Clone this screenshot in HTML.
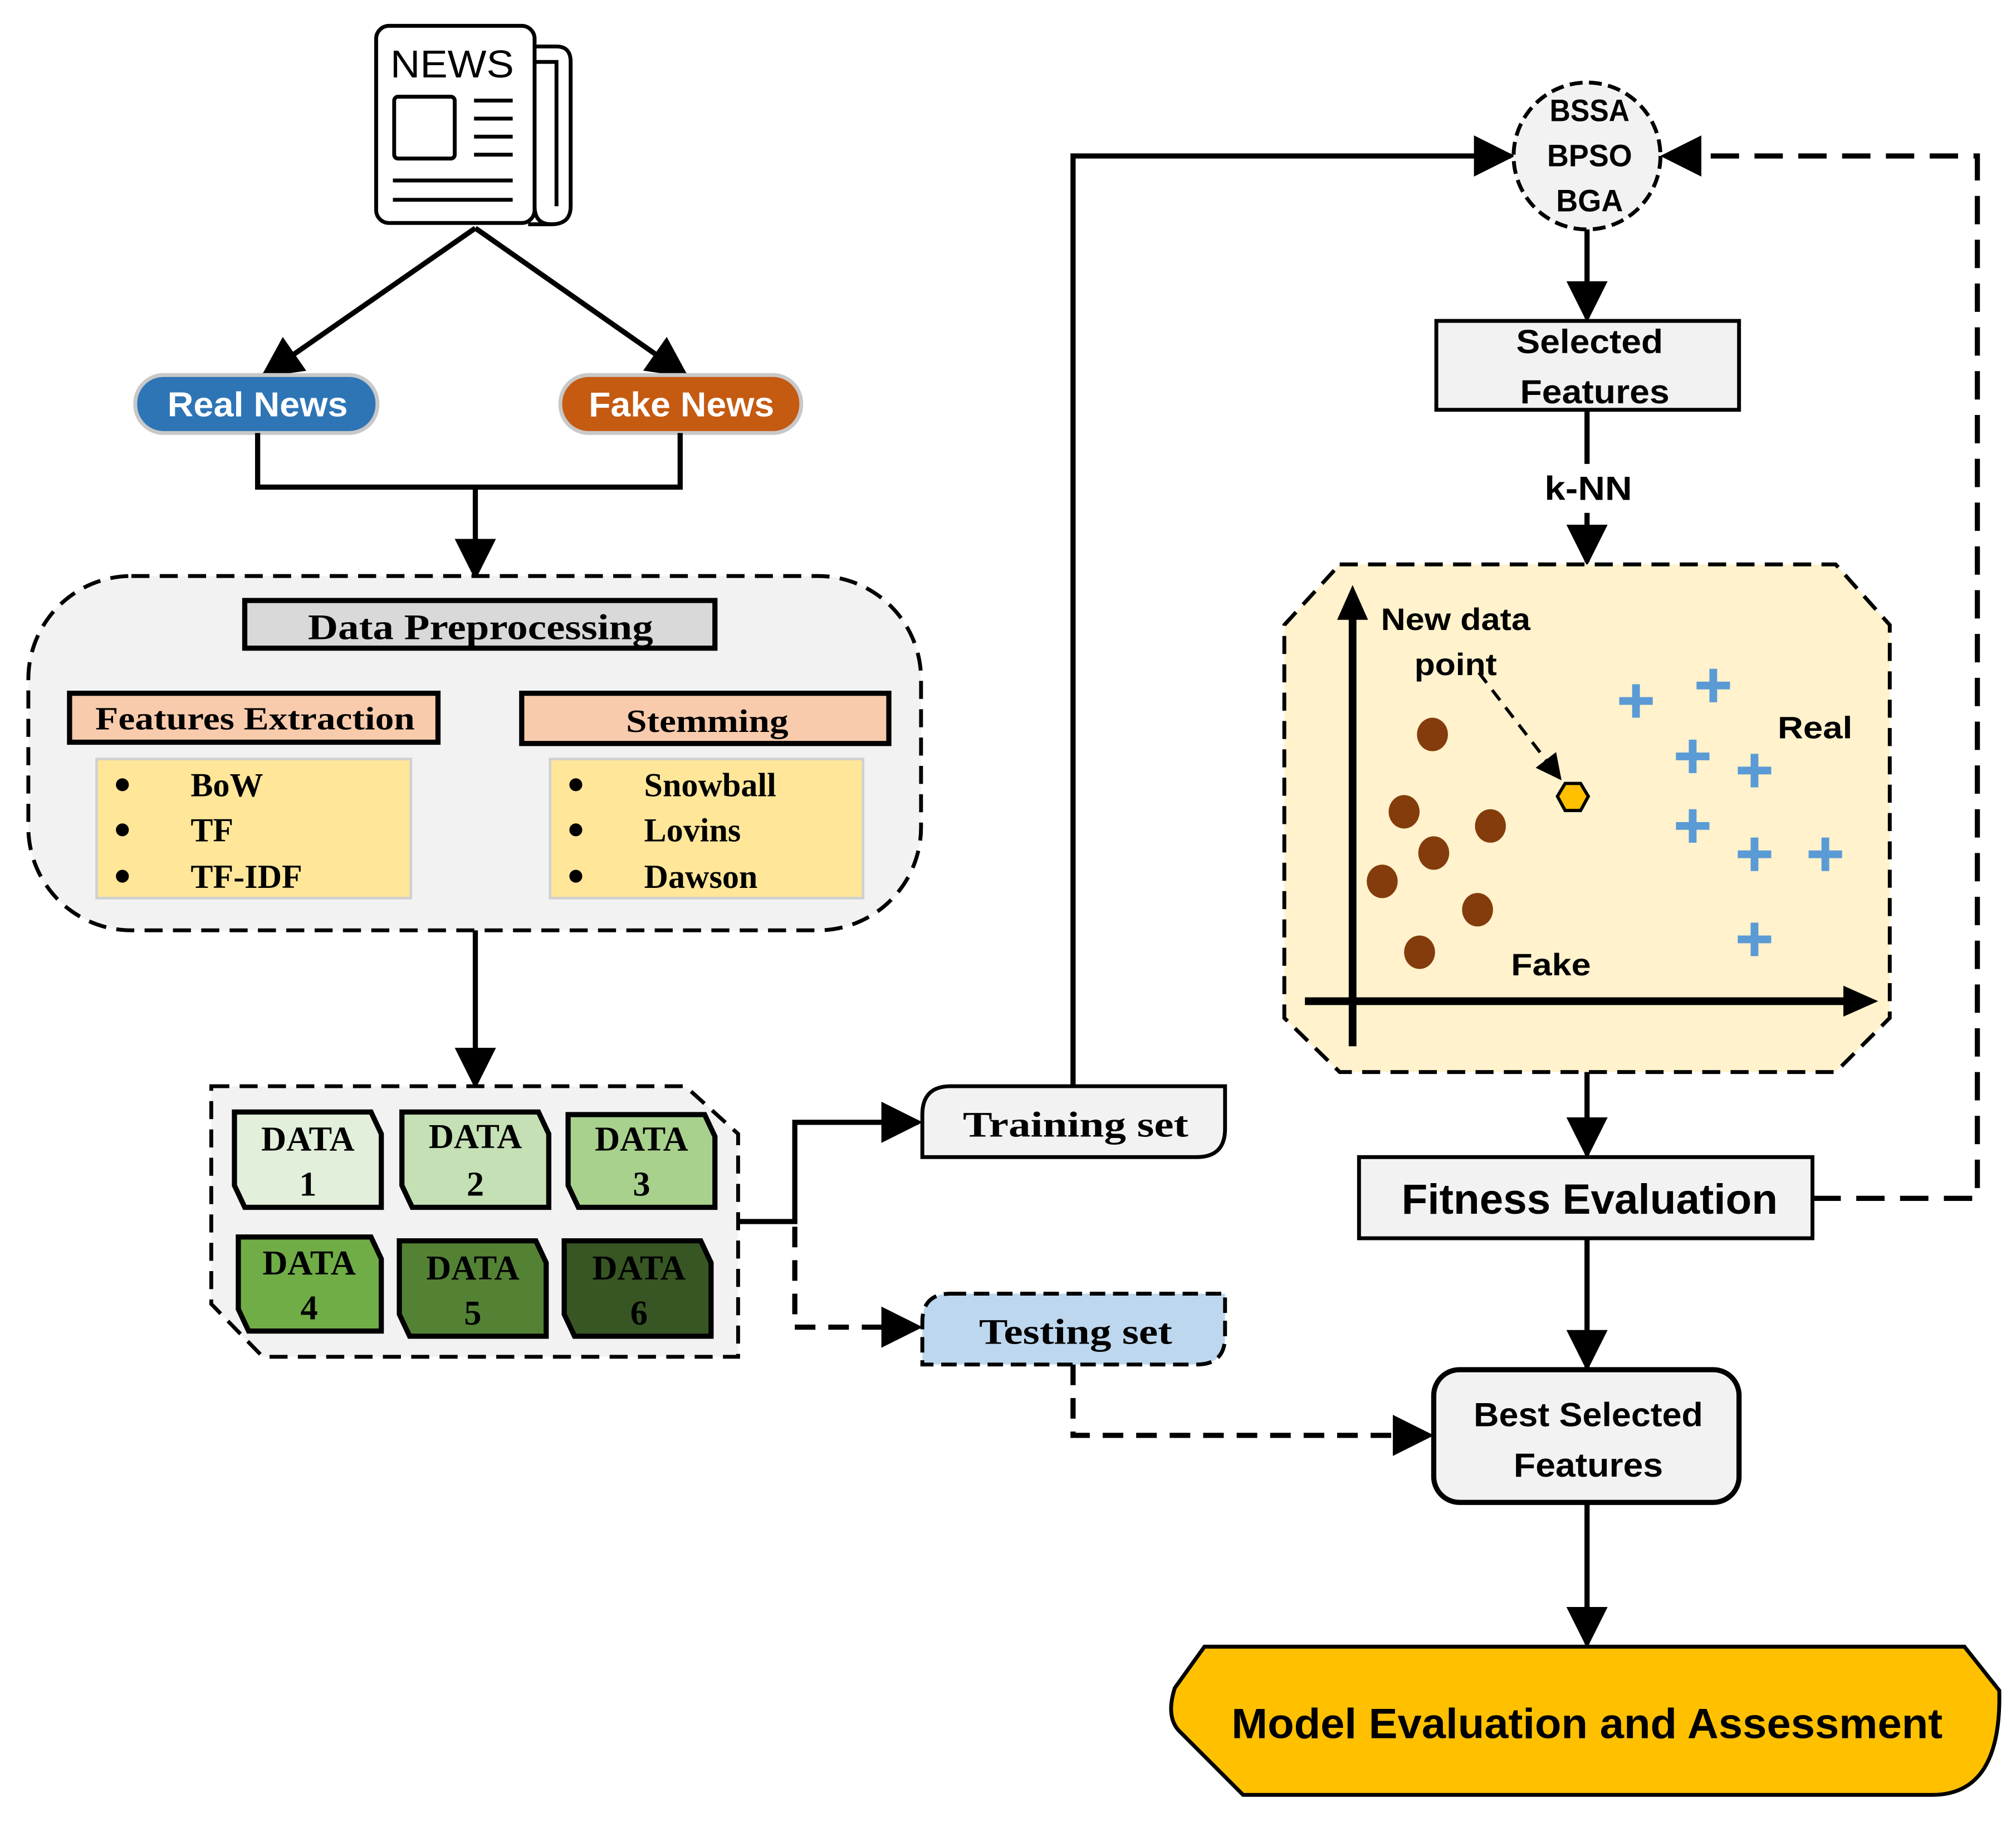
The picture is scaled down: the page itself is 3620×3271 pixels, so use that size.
<!DOCTYPE html>
<html><head><meta charset="utf-8"><style>html,body{margin:0;padding:0;background:#fff}svg{display:block}</style></head>
<body>
<svg width="3620" height="3271" viewBox="0 0 1565 1414" xmlns="http://www.w3.org/2000/svg">
<defs>
<marker id="ab" viewBox="0 0 10 10" refX="9" refY="5" markerWidth="8" markerHeight="8" orient="auto"><path d="M0,0 L10,5 L0,10 z" fill="#000"/></marker>
</defs>
<g font-family="Liberation Sans, sans-serif" font-weight="bold">
<!-- Newspaper -->
<path d="M410,36 L432,36 Q443,36 443,48 L443,160 Q443,174 428,174 L410,174" fill="#fff" stroke="#000" stroke-width="3"/>
<path d="M415,48 L432,48 L432,160" fill="none" stroke="#000" stroke-width="3"/>
<rect x="292" y="20" width="123" height="153" rx="10" fill="#fff" stroke="#000" stroke-width="3"/>
<path d="M415,160 Q415,174 428,174" fill="none" stroke="#000" stroke-width="3"/>
<text x="351" y="60" font-size="30" font-weight="normal" text-anchor="middle" textLength="96" lengthAdjust="spacingAndGlyphs">NEWS</text>
<rect x="306" y="75" width="47" height="48" rx="3" fill="none" stroke="#000" stroke-width="3"/>
<g stroke="#000" stroke-width="3"><line x1="368" y1="78" x2="398" y2="78"/><line x1="368" y1="92" x2="398" y2="92"/><line x1="368" y1="106" x2="398" y2="106"/><line x1="368" y1="120" x2="398" y2="120"/><line x1="305" y1="140" x2="398" y2="140"/><line x1="305" y1="155" x2="398" y2="155"/></g>
<line x1="369" y1="177" x2="205" y2="291" stroke="#000" stroke-width="4" marker-end="url(#ab)"/>
<line x1="369" y1="177" x2="532" y2="291" stroke="#000" stroke-width="4" marker-end="url(#ab)"/>
<rect x="105" y="291" width="188" height="45" rx="22" fill="#2e75b6" stroke="#c8c8c8" stroke-width="3"/>
<text x="200" y="323" font-size="27" fill="#fff" text-anchor="middle" textLength="140" lengthAdjust="spacingAndGlyphs">Real News</text>
<rect x="435" y="291" width="187" height="45" rx="22" fill="#c55a11" stroke="#c8c8c8" stroke-width="3"/>
<text x="529" y="323" font-size="27" fill="#fff" text-anchor="middle" textLength="144" lengthAdjust="spacingAndGlyphs">Fake News</text>
<path d="M200,336 L200,378 L528,378 L528,336" fill="none" stroke="#000" stroke-width="4"/>
<line x1="369" y1="378" x2="369" y2="447" stroke="#000" stroke-width="4" marker-end="url(#ab)"/>
<rect x="22" y="447" width="693" height="275" rx="80" fill="#f2f2f2" stroke="#000" stroke-width="3" stroke-dasharray="14,8"/>
<g font-family="Liberation Serif, serif">
<rect x="190" y="466" width="365" height="37" fill="#d9d9d9" stroke="#000" stroke-width="4"/>
<text x="373" y="496" font-size="28" text-anchor="middle" textLength="268" lengthAdjust="spacingAndGlyphs">Data Preprocessing</text>
<rect x="54" y="538" width="286" height="38" fill="#f8cbad" stroke="#000" stroke-width="4"/>
<text x="198" y="566" font-size="25" text-anchor="middle" textLength="248" lengthAdjust="spacingAndGlyphs">Features Extraction</text>
<rect x="405" y="538" width="285" height="39" fill="#f8cbad" stroke="#000" stroke-width="4"/>
<text x="549" y="568" font-size="25" text-anchor="middle" textLength="126" lengthAdjust="spacingAndGlyphs">Stemming</text>
<rect x="75" y="589" width="244" height="108" fill="#ffe699" stroke="#d0d0d0" stroke-width="2"/>
<rect x="427" y="589" width="243" height="108" fill="#ffe699" stroke="#d0d0d0" stroke-width="2"/>
<g font-size="26"><circle cx="95" cy="609" r="5"/><circle cx="95" cy="644" r="5"/><circle cx="95" cy="680" r="5"/>
<text x="148" y="618">BoW</text><text x="148" y="653">TF</text><text x="148" y="689">TF-IDF</text>
<circle cx="447" cy="609" r="5"/><circle cx="447" cy="644" r="5"/><circle cx="447" cy="680" r="5"/>
<text x="500" y="618">Snowball</text><text x="500" y="653">Lovins</text><text x="500" y="689">Dawson</text></g>
</g>
<line x1="369" y1="722" x2="369" y2="842" stroke="#000" stroke-width="4" marker-end="url(#ab)"/>
<path d="M164,843 L532,843 L573,880 L573,1053 L204,1053 L164,1012 Z" fill="#f2f2f2" stroke="#000" stroke-width="3" stroke-dasharray="14,8"/>
<g font-family="Liberation Serif, serif" font-size="27" text-anchor="middle" stroke-width="4" stroke="#000">
<path d="M182,863 L288,863 L296,880 L296,937 L190,937 L182,920 Z" fill="#e2efda"/>
<path d="M312,863 L418,863 L426,880 L426,937 L320,937 L312,920 Z" fill="#c5e0b4"/>
<path d="M441,865 L547,865 L555,882 L555,937 L449,937 L441,920 Z" fill="#a9d18e"/>
<path d="M185,960 L288,960 L296,977 L296,1033 L193,1033 L185,1016 Z" fill="#70ad47"/>
<path d="M310,963 L416,963 L424,980 L424,1037 L318,1037 L310,1020 Z" fill="#548235"/>
<path d="M438,963 L544,963 L552,980 L552,1037 L446,1037 L438,1020 Z" fill="#375623"/>
<g stroke="none" fill="#000">
<text x="239" y="893">DATA</text><text x="239" y="928">1</text>
<text x="369" y="891">DATA</text><text x="369" y="928">2</text>
<text x="498" y="893">DATA</text><text x="498" y="928">3</text>
<text x="240" y="989">DATA</text><text x="240" y="1024">4</text>
<text x="367" y="993">DATA</text><text x="367" y="1028">5</text>
<text x="496" y="993">DATA</text><text x="496" y="1028">6</text>
</g></g>
<path d="M574,948 L617,948 L617,871 L713,871" fill="none" stroke="#000" stroke-width="4" marker-end="url(#ab)"/>
<path d="M617,952 L617,1030 L713,1030" fill="none" stroke="#000" stroke-width="4" stroke-dasharray="16,10" marker-end="url(#ab)"/>
<path d="M738,843 L951,843 L951,876 Q951,898 929,898 L716,898 L716,865 Q716,843 738,843 Z" fill="#f2f2f2" stroke="#000" stroke-width="3"/>
<text x="835" y="882" font-family="Liberation Serif, serif" font-size="28" text-anchor="middle" textLength="175" lengthAdjust="spacingAndGlyphs">Training  set</text>
<path d="M738,1004 L951,1004 L951,1037 Q951,1059 929,1059 L716,1059 L716,1026 Q716,1004 738,1004 Z" fill="#bdd7ee" stroke="#000" stroke-width="3" stroke-dasharray="12,6"/>
<text x="835" y="1043" font-family="Liberation Serif, serif" font-size="28" text-anchor="middle" textLength="150" lengthAdjust="spacingAndGlyphs">Testing set</text>
<path d="M833,843 L833,121 L1173,121" fill="none" stroke="#000" stroke-width="4" marker-end="url(#ab)"/>
<path d="M833,1059 L833,1114 L1110,1114" fill="none" stroke="#000" stroke-width="4" stroke-dasharray="16,10" marker-end="url(#ab)"/>
<circle cx="1232" cy="121" r="57" fill="#f2f2f2" stroke="#000" stroke-width="3" stroke-dasharray="10,5"/>
<g font-size="24" text-anchor="middle"><text x="1234" y="94" textLength="62" lengthAdjust="spacingAndGlyphs">BSSA</text><text x="1234" y="129" textLength="66" lengthAdjust="spacingAndGlyphs">BPSO</text><text x="1234" y="164" textLength="52" lengthAdjust="spacingAndGlyphs">BGA</text></g>
<line x1="1232" y1="178" x2="1232" y2="247" stroke="#000" stroke-width="4" marker-end="url(#ab)"/>
<rect x="1115" y="249" width="235" height="69" fill="#f2f2f2" stroke="#000" stroke-width="3"/>
<g font-size="26" text-anchor="middle"><text x="1234" y="274" textLength="114" lengthAdjust="spacingAndGlyphs">Selected</text><text x="1238" y="313" textLength="116" lengthAdjust="spacingAndGlyphs">Features</text></g>
<line x1="1232" y1="318" x2="1232" y2="360" stroke="#000" stroke-width="4"/>
<text x="1233" y="388" font-size="26" text-anchor="middle" textLength="68" lengthAdjust="spacingAndGlyphs">k-NN</text>
<line x1="1232" y1="398" x2="1232" y2="436" stroke="#000" stroke-width="4" marker-end="url(#ab)"/>
<path d="M1040,438 L1425,438 L1467,485 L1467,790 L1425,832 L1040,832 L997,790 L997,485 Z" fill="#fff2cc" stroke="#000" stroke-width="3" stroke-dasharray="14,8"/>
<line x1="1050" y1="812" x2="1050" y2="475" stroke="#000" stroke-width="6"/>
<polygon points="1050,454 1038,481 1062,481" fill="#000"/>
<line x1="1013" y1="777" x2="1435" y2="777" stroke="#000" stroke-width="6"/>
<polygon points="1458,777 1431,765 1431,789" fill="#000"/>
<g font-size="24">
<text x="1072" y="489" textLength="116" lengthAdjust="spacingAndGlyphs">New data</text>
<text x="1098" y="524" textLength="64" lengthAdjust="spacingAndGlyphs">point</text>
<text x="1380" y="573" textLength="58" lengthAdjust="spacingAndGlyphs">Real</text>
<text x="1173" y="757" textLength="62" lengthAdjust="spacingAndGlyphs">Fake</text>
</g>
<g fill="#843c0c"><ellipse cx="1112" cy="570" rx="12" ry="13"/><ellipse cx="1090" cy="630" rx="12" ry="13"/><ellipse cx="1157" cy="641" rx="12" ry="13"/><ellipse cx="1113" cy="662" rx="12" ry="13"/><ellipse cx="1073" cy="684" rx="12" ry="13"/><ellipse cx="1147" cy="706" rx="12" ry="13"/><ellipse cx="1102" cy="739" rx="12" ry="13"/></g>
<g stroke="#5b9bd5" stroke-width="6">
<path d="M1270,531v26M1257,544h26"/><path d="M1330,519v26M1317,532h26"/><path d="M1314,574v26M1301,587h26"/><path d="M1362,585v26M1349,598h26"/><path d="M1314,628v26M1301,641h26"/><path d="M1362,650v26M1349,663h26"/><path d="M1417,650v26M1404,663h26"/><path d="M1362,716v26M1349,729h26"/>
</g>
<line x1="1148" y1="522" x2="1211" y2="604" stroke="#000" stroke-width="2.5" stroke-dasharray="10,7" marker-end="url(#ab)"/>
<polygon points="1209,618 1215,608 1227,608 1233,618 1227,629 1215,629" fill="#ffc000" stroke="#000" stroke-width="2.5"/>
<line x1="1232" y1="832" x2="1232" y2="896" stroke="#000" stroke-width="4" marker-end="url(#ab)"/>
<rect x="1055" y="898" width="352" height="63" fill="#f2f2f2" stroke="#000" stroke-width="3"/>
<text x="1234" y="942" font-size="33" text-anchor="middle" textLength="292" lengthAdjust="spacingAndGlyphs">Fitness Evaluation</text>
<path d="M1407,930 L1535,930 L1535,121 L1292,121" fill="none" stroke="#000" stroke-width="4" stroke-dasharray="22,12" marker-end="url(#ab)"/>
<line x1="1232" y1="961" x2="1232" y2="1061" stroke="#000" stroke-width="4" marker-end="url(#ab)"/>
<rect x="1113" y="1063" width="237" height="103" rx="20" fill="#f2f2f2" stroke="#000" stroke-width="4"/>
<g font-size="26" text-anchor="middle"><text x="1233" y="1107" textLength="178" lengthAdjust="spacingAndGlyphs">Best Selected</text><text x="1233" y="1146" textLength="116" lengthAdjust="spacingAndGlyphs">Features</text></g>
<line x1="1232" y1="1166" x2="1232" y2="1276" stroke="#000" stroke-width="4" marker-end="url(#ab)"/>
<path d="M935,1278 L1525,1278 L1552,1312 Q1554,1393 1500,1393 L965,1393 L915,1343 Q905,1332 912,1310 Z" fill="#ffc000" stroke="#000" stroke-width="3"/>
<text x="1232" y="1349" font-size="33" text-anchor="middle" textLength="552" lengthAdjust="spacingAndGlyphs">Model Evaluation and Assessment</text>
</g>
</svg>
</body></html>
